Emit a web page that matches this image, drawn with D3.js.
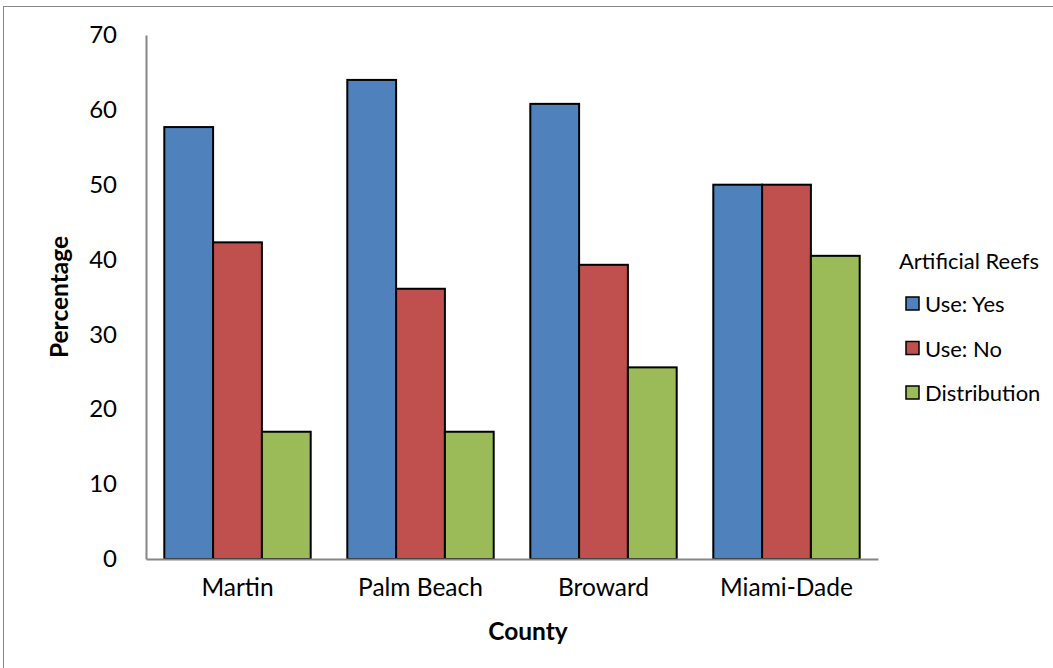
<!DOCTYPE html>
<html><head><meta charset="utf-8">
<script src="https://cdn.jsdelivr.net/npm/d3@7"></script>
<style>body{margin:0;background:#fff}svg{display:block}text{font-family:Lato,sans-serif;fill:#000}</style>
</head><body><svg id="c" width="1053" height="668"></svg>
<script>
const categories = ["Martin", "Palm Beach", "Broward", "Miami-Dade"];
const seriesNames = ["Use: Yes", "Use: No", "Distribution"];
const useYes = [57.7, 64.0, 60.8, 50.0];
const useNo = [42.3, 36.1, 39.3, 50.0];
const distribution = [17.0, 17.0, 25.6, 40.5];
const yTicks = [0, 10, 20, 30, 40, 50, 60, 70];
const colors = ["#4F81BD", "#C0504D", "#9BBB59"];
const seriesValues = [useYes, useNo, distribution];

(function () {
const svg = d3.select("#c");
svg.append("rect").attr("x", 3.5).attr("y", 6.5).attr("width", 1060).attr("height", 670)
  .attr("fill", "none").attr("stroke", "#868686").attr("stroke-width", 1);

const pLeft = 146, pRight = 878, pTop = 35, pBottom = 559;
const x = d3.scaleBand().domain(categories).range([pLeft, pRight]).paddingInner(0.2).paddingOuter(0.1);
const xs = d3.scaleBand().domain(seriesNames).range([0, x.bandwidth()]);
const y = d3.scaleLinear().domain([0, 70]).range([pBottom, pTop]);

const groups = svg.append("g").selectAll("g").data(categories).join("g")
  .attr("transform", d => `translate(${x(d)},0)`);
groups.selectAll("rect").data((c, i) => seriesNames.map((s, j) => ({s, v: seriesValues[j][i], j})))
  .join("rect")
  .attr("x", d => xs(d.s)).attr("width", xs.bandwidth())
  .attr("y", d => y(d.v)).attr("height", d => y(0) - y(d.v))
  .attr("fill", d => colors[d.j]).attr("stroke", "#000").attr("stroke-width", 2);

const ya = svg.append("g").attr("transform", `translate(${pLeft},0)`)
  .call(d3.axisLeft(y).tickValues(yTicks).tickSize(0).tickPadding(29));
ya.select(".domain").attr("stroke", "#868686").attr("stroke-width", 2);
ya.selectAll("text").attr("font-size", 24).style("font-family", "Lato,sans-serif");

const xa = svg.append("g").attr("transform", `translate(0,${pBottom})`)
  .call(d3.axisBottom(x).tickSize(0).tickPadding(20));
xa.select(".domain").attr("stroke", "#868686").attr("stroke-width", 2);
xa.selectAll("text").attr("font-size", 24.5).style("font-family", "Lato,sans-serif");

svg.append("text").attr("x", 528).attr("y", 640).attr("text-anchor", "middle")
  .attr("font-size", 24.5).attr("font-weight", "bold").text("County");
svg.append("text").attr("transform", `translate(68,${(pTop + pBottom) / 2}) rotate(-90)`)
  .attr("text-anchor", "middle").attr("font-size", 24.5).attr("font-weight", "bold").text("Percentage");

const lg = svg.append("g");
lg.append("text").attr("x", 899).attr("y", 269).attr("font-size", 22).text("Artificial Reefs");
const items = lg.selectAll("g").data(seriesNames).join("g")
  .attr("transform", (d, i) => `translate(906,${304 + i * 44.5})`);
items.append("rect").attr("x", 0).attr("y", -7).attr("width", 13).attr("height", 13)
  .attr("fill", (d, i) => colors[i]).attr("stroke", "#000").attr("stroke-width", 1.5);
items.append("text").attr("x", 19).attr("y", 8).attr("font-size", 22).text(d => d);
})();
</script></body></html>
